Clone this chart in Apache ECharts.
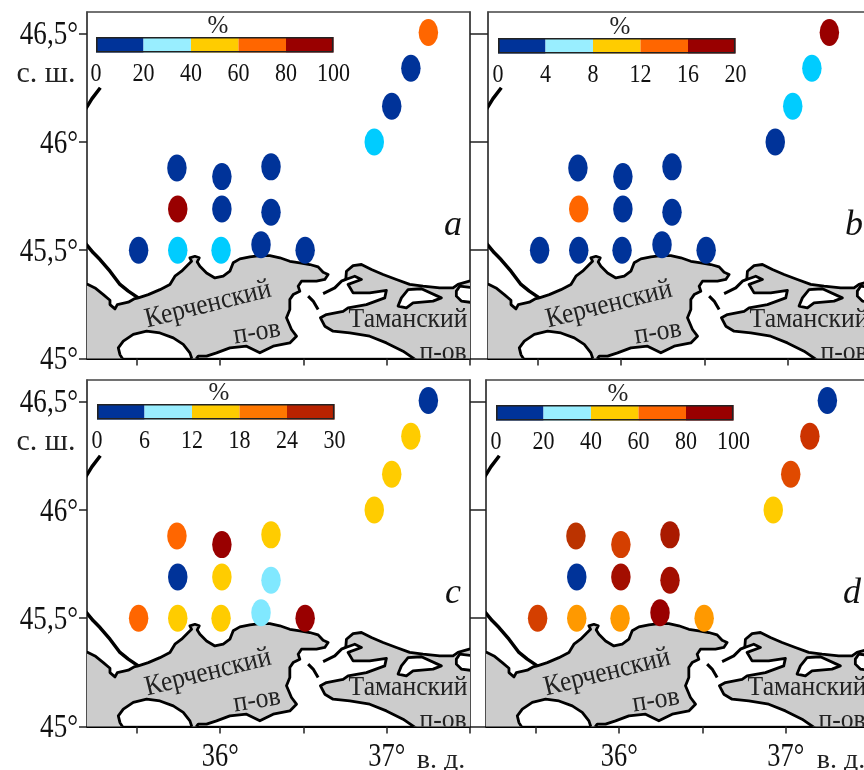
<!DOCTYPE html>
<html>
<head>
<meta charset="utf-8">
<title>Kerch stations</title>
<script src="https://cdn.jsdelivr.net/npm/echarts@6/dist/echarts.min.js"></script>
<style>
html, body { margin: 0; padding: 0; background: #fff; }
#chart { width: 864px; height: 770px; overflow: hidden; }
</style>
</head>
<body>
<div id="chart"></div>
<script>
var chart = echarts.init(document.getElementById('chart'));

var serif = '"Liberation Serif", "DejaVu Serif", serif';

// stations, lon / lat
var stationLon = [37.25, 37.145, 37.03, 36.925, 35.74, 36.01, 36.305, 35.745, 36.01, 36.305, 35.51, 35.745, 36.005, 36.245, 36.51];
var stationLat = [46.505, 46.34, 46.165, 46.0, 45.88, 45.84, 45.885, 45.69, 45.69, 45.675, 45.5, 45.5, 45.5, 45.525, 45.5];

// percent at each station
var valuesA = [70, 10, 10, 30, 10, 10, 10, 90, 10, 10, 10, 30, 30, 10, 10];
var valuesB = [18, 6, 6, 2, 2, 2, 2, 14, 2, 2, 2, 2, 2, 2, 2];
var valuesC = [3, 15, 15, 15, 22, 27, 15, 3, 15, 9, 22, 15, 15, 9, 27];
var valuesD = [10, 74, 68, 50, 78, 70, 82, 10, 88, 86, 70, 55, 57, 95, 57];

// colour scale upper limits
var scaleA = [20, 40, 60, 80, 100];
var scaleB = [4, 8, 12, 16, 20];
var scaleC = [6, 12, 18, 24, 30];
var scaleD = [20, 40, 60, 80, 100];

// coast, lon / lat
var kerchCoast = [[35.15, 45.342], [35.206, 45.342], [35.248, 45.326], [35.298, 45.295], [35.338, 45.269], [35.338, 45.249], [35.368, 45.229], [35.382, 45.249], [35.448, 45.26], [35.482, 45.275], [35.508, 45.28], [35.568, 45.295], [35.638, 45.318], [35.698, 45.342], [35.728, 45.38], [35.768, 45.403], [35.808, 45.434], [35.828, 45.449], [35.818, 45.465], [35.848, 45.472], [35.874, 45.465], [35.862, 45.446], [35.878, 45.426], [35.918, 45.395], [35.968, 45.372], [36.018, 45.38], [36.058, 45.403], [36.078, 45.442], [36.118, 45.46], [36.178, 45.469], [36.238, 45.475], [36.298, 45.475], [36.358, 45.465], [36.418, 45.449], [36.478, 45.442], [36.538, 45.434], [36.588, 45.423], [36.618, 45.398], [36.648, 45.388], [36.628, 45.365], [36.578, 45.357], [36.528, 45.357], [36.488, 45.357], [36.468, 45.334], [36.478, 45.311], [36.438, 45.295], [36.418, 45.272], [36.418, 45.226], [36.398, 45.188], [36.428, 45.134], [36.458, 45.103], [36.418, 45.072], [36.318, 45.057], [36.238, 45.026], [36.158, 45.057], [36.058, 45.049], [35.978, 45.026], [35.918, 45.011], [35.868, 45.011], [35.838, 44.98], [35.818, 45.026], [35.778, 45.065], [35.718, 45.095], [35.638, 45.118], [35.558, 45.126], [35.478, 45.111], [35.418, 45.08], [35.388, 45.049], [35.398, 45.018], [35.428, 44.98], [35.15, 44.98]];
var tamanCoast = [[36.758, 45.403], [36.798, 45.429], [36.848, 45.434], [36.908, 45.411], [36.978, 45.388], [37.058, 45.365], [37.138, 45.342], [37.218, 45.334], [37.318, 45.326], [37.398, 45.326], [37.428, 45.342], [37.496, 45.357], [37.6, 45.36], [37.6, 44.98], [37.2, 44.98], [37.098, 45.034], [36.998, 45.072], [36.898, 45.103], [36.778, 45.118], [36.678, 45.126], [36.628, 45.149], [36.602, 45.188], [36.638, 45.203], [36.738, 45.218], [36.768, 45.234], [36.878, 45.249], [36.988, 45.28], [36.998, 45.315], [36.898, 45.303], [36.798, 45.303], [36.768, 45.342], [36.848, 45.365], [36.808, 45.38], [36.754, 45.365]];
var lagoonWest = [[37.068, 45.242], [37.088, 45.28], [37.128, 45.318], [37.208, 45.322], [37.328, 45.28], [37.278, 45.265], [37.158, 45.257], [37.118, 45.234]];
var lagoonEast = [[37.418, 45.311], [37.438, 45.334], [37.6, 45.32], [37.6, 45.25], [37.448, 45.265], [37.418, 45.288]];
var arabatSpit = [[35.508, 45.28], [35.448, 45.311], [35.398, 45.342], [35.338, 45.403], [35.278, 45.457], [35.238, 45.488], [35.15, 45.57]];
var chushkaSpit = [[36.618, 45.3], [36.688, 45.326], [36.728, 45.357], [36.754, 45.365]];
var tuzlaSpit = [[36.528, 45.288], [36.558, 45.265], [36.588, 45.226]];
var northShore = [[35.19, 46.15], [35.23, 46.2], [35.28, 46.25]];

// map captions: text, lon, lat, degrees
var mapLabels = [
    ['Керченский', 35.927, 45.249, 14],
    ['п-ов', 36.221, 45.12, 9],
    ['Таманский', 37.128, 45.18, 0],
    ['п-ов', 37.338, 45.028, 0]
];

var xTicks = [35.5, 36, 36.5, 37, 37.5];
var xLabels = [36, 37];
var yTicks = [45, 45.5, 46, 46.5];

var bandColors = ['#003399', '#99eeff', '#ffcc00', '#ff6600', '#990000'];

function bandPieces(limits, colors) {
    return limits.map(function (top, i) {
        return { gte: i ? limits[i - 1] : 0, lt: top + (i === limits.length - 1 ? 1 : 0), color: colors[i] };
    });
}

// panel d runs through many shades
var piecesD = [
    { gte: 0, lt: 20, color: '#003399' },
    { gte: 40, lt: 52, color: '#ffcc00' },
    { gte: 52, lt: 60, color: '#ff9900' },
    { gte: 60, lt: 69, color: '#e04a00' },
    { gte: 69, lt: 73, color: '#d43f00' },
    { gte: 73, lt: 76, color: '#cc3300' },
    { gte: 76, lt: 80, color: '#bb3300' },
    { gte: 80, lt: 85, color: '#aa1a00' },
    { gte: 85, lt: 90, color: '#a30e00' },
    { gte: 90, lte: 100, color: '#990000' }
];

var panels = [
    { letter: 'a', values: valuesA, scale: scaleA, left: 87, top: 12, barLeft: 96, barTop: 37, barColors: bandColors,
      pieces: bandPieces(scaleA, ['#003399', '#00ccff', '#ffcc00', '#ff6600', '#990000']), xText: false, yText: true },
    { letter: 'b', values: valuesB, scale: scaleB, left: 488, top: 12, barLeft: 498, barTop: 38, barColors: bandColors,
      pieces: bandPieces(scaleB, ['#003399', '#00ccff', '#ffcc00', '#ff6600', '#990000']), xText: false, yText: false },
    { letter: 'c', values: valuesC, scale: scaleC, left: 87, top: 380, barLeft: 97, barTop: 404, barColors: ['#003399', '#99eeff', '#ffcc00', '#ff7700', '#b82200'],
      pieces: bandPieces(scaleC, ['#003399', '#80e8ff', '#ffcc00', '#ff6600', '#990000']), xText: true, yText: true },
    { letter: 'd', values: valuesD, scale: scaleD, left: 486, top: 380, barLeft: 496, barTop: 405, barColors: bandColors,
      pieces: piecesD, xText: true, yText: false }
];

var grids = [], xAxes = [], yAxes = [], series = [], visualMaps = [], titles = [];

function renderLand(params, api) {
    var shapes = [
        { pts: kerchCoast, type: 'polygon', fill: '#cccccc' },
        { pts: tamanCoast, type: 'polygon', fill: '#cccccc' },
        { pts: lagoonWest, type: 'polygon', fill: '#ffffff' },
        { pts: lagoonEast, type: 'polygon', fill: '#ffffff' },
        { pts: arabatSpit, type: 'polyline', width: 3.5 },
        { pts: chushkaSpit, type: 'polyline', width: 3 },
        { pts: tuzlaSpit, type: 'polyline', width: 3 },
        { pts: northShore, type: 'polyline', width: 3.5 }
    ];
    var s = shapes[api.value(0)];
    return {
        type: s.type,
        shape: { points: s.pts.map(function (p) { return api.coord(p); }) },
        style: { fill: s.fill || 'none', stroke: '#000', lineWidth: s.width || 2.8, lineJoin: 'round' }
    };
}

function renderCaption(params, api) {
    var c = mapLabels[api.value(0)];
    var p = api.coord([c[1], c[2]]);
    return {
        type: 'text',
        x: p[0],
        y: p[1],
        rotation: c[3] * Math.PI / 180,
        scaleX: 0.95,
        scaleY: 1.05,
        style: { text: c[0], font: '27px ' + serif, fill: '#222', align: 'center', verticalAlign: 'middle' }
    };
}

// tick texts are narrow in the source, axisLabel cannot squeeze them
function tickText(text, p, align, size, squeeze) {
    return {
        type: 'text', x: p[0], y: p[1], scaleX: squeeze,
        style: { text: text, font: size + 'px ' + serif, fill: '#111', align: align, verticalAlign: 'middle' }
    };
}

function tickSeries(xIndex, yIndex, ticks, render) {
    series.push({
        type: 'custom', xAxisIndex: xIndex, yAxisIndex: yIndex, clip: false, silent: true, z: 6,
        data: ticks.map(function (t) { return [t]; }),
        encode: { x: 0, y: -1 },
        renderItem: render
    });
}

panels.forEach(function (panel) {
    var map = grids.length;
    var bar = map + 1;

    grids.push({ left: panel.left, top: panel.top, width: 383, height: 346.5, show: true, backgroundColor: '#fff',
        borderColor: '#444', borderWidth: 1.5, outerBoundsMode: 'none' });
    grids.push({ left: panel.barLeft, top: panel.barTop, width: 237.5, height: 15.5, outerBoundsMode: 'none' });

    xAxes.push({
        gridIndex: map, type: 'value', min: 35.2, max: 37.5,
        splitLine: { show: false },
        axisLine: { onZero: false, lineStyle: { color: '#000', width: 2 } },
        axisTick: { customValues: xTicks, length: 7, lineStyle: { color: '#222', width: 1.5 } },
        axisLabel: { show: false }
    });
    yAxes.push({
        gridIndex: map, type: 'value', min: 45, max: 46.6,
        splitLine: { show: false },
        axisLine: { lineStyle: { color: '#444', width: 1.5 } },
        axisTick: { customValues: yTicks, length: 8, lineStyle: { color: '#222', width: 1.5 } },
        axisLabel: { show: false }
    });
    yAxes.push({
        gridIndex: map, type: 'value', min: 45, max: 46.6, position: 'right',
        splitLine: { show: false },
        axisLine: { lineStyle: { color: '#444', width: 1.5 } },
        axisTick: { customValues: yTicks, length: 10, lineStyle: { color: '#222', width: 1.5 } },
        axisLabel: { show: false }
    });

    // colour bar
    var barMax = panel.scale[panel.scale.length - 1];
    xAxes.push({
        gridIndex: bar, type: 'value', min: 0, max: barMax, interval: barMax / 5,
        splitLine: { show: false }, axisLine: { show: false }, axisTick: { show: false },
        axisLabel: { show: false }
    });
    yAxes.push({
        gridIndex: bar, type: 'category', data: ['%'],
        axisLine: { show: false }, axisTick: { show: false }, axisLabel: { show: false }
    });

    var xMap = xAxes.length - 2, xBar = xAxes.length - 1;
    var yMap = yAxes.length - 3, yBar = yAxes.length - 1;

    series.push({
        type: 'custom', xAxisIndex: xMap, yAxisIndex: yMap, clip: true, silent: true, z: 2,
        data: [0, 1, 2, 3, 4, 5, 6, 7].map(function (i) { return [i]; }),
        encode: { x: 0, y: -1 },
        renderItem: renderLand
    });
    series.push({
        type: 'custom', xAxisIndex: xMap, yAxisIndex: yMap, clip: true, silent: true, z: 3,
        data: mapLabels.map(function (c, i) { return [i]; }),
        encode: { x: 0, y: -1 },
        renderItem: renderCaption
    });

    visualMaps.push({
        type: 'piecewise', show: false, dimension: 2, seriesIndex: series.length, pieces: panel.pieces
    });
    series.push({
        type: 'scatter', xAxisIndex: xMap, yAxisIndex: yMap, z: 4,
        symbol: 'circle', symbolSize: [19.5, 27],
        itemStyle: { opacity: 1 },
        data: stationLon.map(function (lon, i) { return [lon, stationLat[i], panel.values[i]]; })
    });

    panel.scale.forEach(function (top, i) {
        series.push({
            type: 'bar', xAxisIndex: xBar, yAxisIndex: yBar, stack: 'scale' + map, barWidth: '100%', z: 4,
            itemStyle: { color: panel.barColors[i] },
            data: [top - (i ? panel.scale[i - 1] : 0)]
        });
    });
    series.push({
        type: 'bar', xAxisIndex: xBar, yAxisIndex: yBar, barWidth: '100%', barGap: '-100%', z: 5,
        itemStyle: { color: 'rgba(0,0,0,0)', borderColor: '#222', borderWidth: 1.6 },
        data: [barMax]
    });

    // tick texts
    tickSeries(xBar, yBar, [0].concat(panel.scale), function (params, api) {
        var v = api.value(0);
        var p = api.coord([v, 0]);
        return tickText(String(v), [p[0], p[1] + 30], 'center', 25, 0.88);
    });
    if (panel.yText) {
        tickSeries(xMap, yMap, yTicks, function (params, api) {
            var v = api.value(0);
            var p = api.coord([35.2, v]);
            return tickText(String(v).replace('.', ',') + '°', [p[0] - 9, p[1] + 2], 'right', 33, 0.82);
        });
    }
    if (panel.xText) {
        tickSeries(xMap, yMap, xLabels, function (params, api) {
            var v = api.value(0);
            var p = api.coord([v, 45]);
            return tickText(v + '°', [p[0], p[1] + 31], 'center', 33, 0.8);
        });
    }

    titles.push({
        text: '%', left: panel.barLeft + 117, top: panel.barTop - 28, textAlign: 'center',
        textStyle: { fontFamily: serif, fontSize: 25, fontWeight: 'normal', color: '#222' }
    });
    titles.push({
        text: panel.letter, left: panel.left + 361, top: panel.top + 191, textAlign: 'center',
        textStyle: { fontFamily: serif, fontSize: 36, fontStyle: 'italic', fontWeight: 'normal', color: '#111' }
    });
});

// latitude and longitude marks
[['с. ш.', 41, 54], ['с. ш.', 41, 422]].forEach(function (t) {
    titles.push({ text: t[0], left: t[1], top: t[2], textAlign: 'center',
        textStyle: { fontFamily: serif, fontSize: 30, fontWeight: 'normal', color: '#222' } });
});
[['в. д.', 436, 742], ['в. д.', 836, 742]].forEach(function (t) {
    titles.push({ text: t[0], left: t[1], top: t[2], textAlign: 'center',
        textStyle: { fontFamily: serif, fontSize: 28, fontWeight: 'normal', color: '#222' } });
});

var option = {
    animation: false,
    backgroundColor: '#fff',
    title: titles,
    grid: grids,
    xAxis: xAxes,
    yAxis: yAxes,
    visualMap: visualMaps,
    series: series
};

chart.setOption(option);
</script>
</body>
</html>
